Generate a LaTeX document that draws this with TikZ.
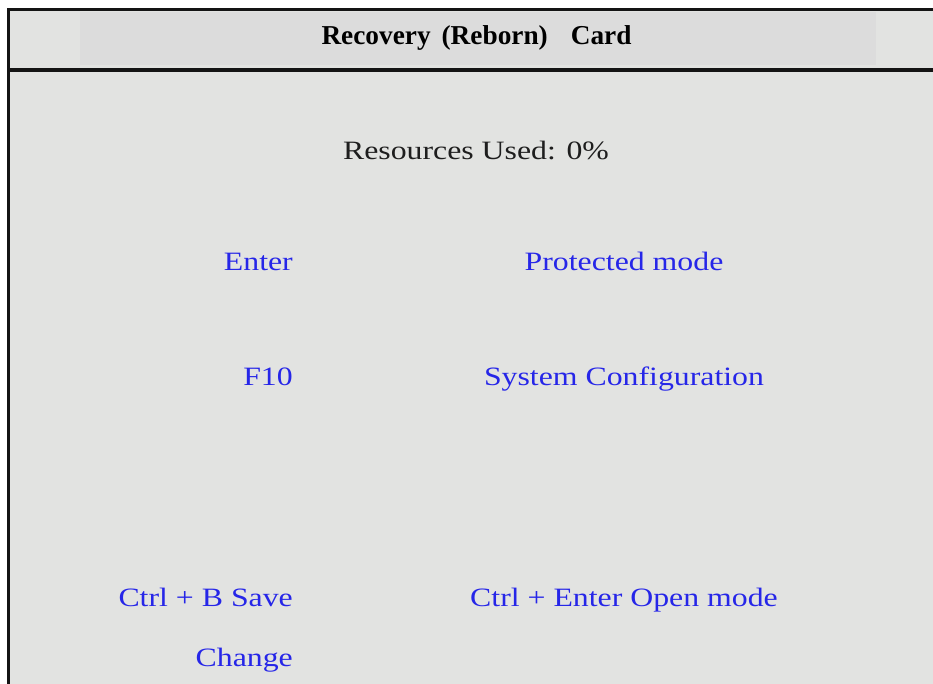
\documentclass[tikz,border=0pt]{standalone}
\usepackage{fontspec}
\setmainfont{Liberation Serif}
% widened serif face for the panel text
\newfontfamily\panelfont[FakeStretch=1.2]{Liberation Serif}
\newfontfamily\titlefont{Liberation Serif Bold}
\definecolor{panelbg}{RGB}{226,227,225}
\definecolor{headbg}{RGB}{220,220,220}
\definecolor{keyblue}{RGB}{38,38,232}
\definecolor{rule}{RGB}{20,20,20}
\definecolor{ink}{RGB}{30,30,30}
\begin{document}
\begin{tikzpicture}[x=1pt,y=-1pt,
  label/.style={inner sep=0pt,anchor=base,font=\panelfont\fontsize{26.5}{30}\selectfont},
  keytxt/.style={label,anchor=base east,text=keyblue},
  acttxt/.style={label,text=keyblue},
  frameline/.style={draw=rule,line width=3pt}]
  \useasboundingbox[fill=white] (0,0) rectangle (933,684);
  % card body and title band
  \fill[panelbg] (9,10) rectangle (933,684);
  \fill[headbg] (80,12) rectangle (876,65);
  % frame rules
  \draw[frameline] (8,684) -- (8,9.5) -- (933,9.5);
  \draw[draw=rule,line width=3.5pt] (8,70) -- (933,70);
  % title
  \node[inner sep=0pt,anchor=base,font=\titlefont\fontsize{27.3}{30}\selectfont,text=black]
    (title) at (476.5,45) {Recovery\hspace{11pt}(Reborn)\hspace{23pt}Card};
  % status line
  \node[label,text=ink] (res) at (476,160) {Resources Used: 0\%};
  % key bindings
  \node[keytxt] (kenter) at (293,271) {Enter};
  \node[acttxt] (aenter) at (624,271) {Protected mode};
  \node[keytxt] (kf10) at (293,385) {F10};
  \node[acttxt] (af10) at (624,385) {System Configuration};
  \node[keytxt] (kctrlb) at (293,606) {Ctrl + B Save};
  \node[acttxt] (actrl) at (624,606) {Ctrl + Enter Open mode};
  \node[keytxt] (kchange) at (293,666) {Change};
\end{tikzpicture}
\end{document}
